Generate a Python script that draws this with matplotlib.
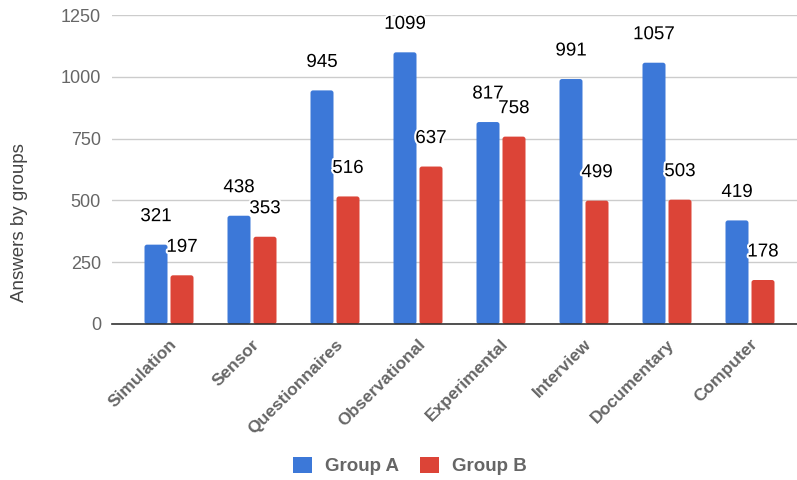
import matplotlib
matplotlib.use("Agg")
import matplotlib.pyplot as plt
import matplotlib.patheffects as pe
import matplotlib.transforms as mtransforms
from matplotlib.patches import FancyBboxPatch, Patch
import numpy as np

categories = ["Simulation", "Sensor", "Questionnaires", "Observational",
              "Experimental", "Interview", "Documentary", "Computer"]
group_a = [321, 438, 945, 1099, 817, 991, 1057, 419]
group_b = [197, 353, 516, 637, 758, 499, 503, 178]
yticks = [0, 250, 500, 750, 1000, 1250]

blue = "#3c78d8"
red = "#dc4437"
grey = "#666666"

plt.rcParams['font.family'] = ['Liberation Sans', 'DejaVu Sans']

fig = plt.figure(figsize=(7.97, 4.8), dpi=100)
ax = fig.add_axes([112/797, 1 - 324/480, 1 - 112/797, (324 - 15)/480])

x = np.arange(len(categories))
w = 23/83
off = 13/83
bars_a = ax.bar(x - off, group_a, width=w, color=blue, zorder=3)
bars_b = ax.bar(x + off, group_b, width=w, color=red, zorder=3)

# rounded corners: replace rectangles with rounded boxes of the same geometry
xu_per_px = 1/83
yu_per_px = 1250/309
for bars, col in ((bars_a, blue), (bars_b, red)):
    for r in bars:
        fb = FancyBboxPatch((r.get_x(), r.get_y()), r.get_width(), r.get_height(),
                            boxstyle=f"round,pad=0,rounding_size={2.5*xu_per_px}",
                            mutation_aspect=yu_per_px/xu_per_px,
                            facecolor=col, edgecolor="none", zorder=3)
        ax.add_patch(fb)
        r.set_visible(False)

halo = [pe.withStroke(linewidth=3, foreground="white")]
for xi, a, b in zip(x, group_a, group_b):
    ax.annotate(str(a), (xi - off, a), xytext=(0, 28), textcoords="offset pixels",
                ha="center", va="center", fontsize=13.5, color="black", zorder=5, path_effects=halo)
    ax.annotate(str(b), (xi + off, b), xytext=(0, 28), textcoords="offset pixels",
                ha="center", va="center", fontsize=13.5, color="black", zorder=5, path_effects=halo)

ax.set_xlim(-57/83, 7 + 47/83)
ax.set_ylim(0, 1250)
ax.set_yticks(yticks)
ax.set_yticklabels([str(t) for t in yticks], color=grey, fontsize=13)
ax.set_xticks(x)
ax.set_xticklabels(categories, rotation=45, ha="right", rotation_mode="anchor",
                   color=grey, fontsize=12.5, fontweight="bold")
shift = mtransforms.ScaledTranslation(4/100, 0, fig.dpi_scale_trans)
for lbl in ax.get_xticklabels():
    lbl.set_transform(lbl.get_transform() + shift)
ax.tick_params(axis="both", length=0)
ax.tick_params(axis="y", pad=8)
ax.tick_params(axis="x", pad=9)
ax.grid(axis="y", color="#cccccc", linewidth=1, zorder=0)
for s in ["top", "right", "left"]:
    ax.spines[s].set_visible(False)
ax.spines["bottom"].set_color("#333333")
ax.spines["bottom"].set_linewidth(1.2)
ax.spines["bottom"].set_zorder(4)
ax.set_ylabel("Answers by groups", color="#444444", fontsize=13.5)
ax.yaxis.set_label_coords((28 - 112)/685, (324 - 223)/309)

handles = [Patch(facecolor=blue, label="Group A"), Patch(facecolor=red, label="Group B")]
leg = fig.legend(handles=handles, loc="center", bbox_to_anchor=(410/797, 1 - 466/480), ncol=2,
                 frameon=False, handlelength=1.0, handleheight=1.0, handletextpad=0.7,
                 columnspacing=1.1, prop={"size": 13.5, "weight": "bold"})
for t in leg.get_texts():
    t.set_color(grey)

fig.savefig("out.png", dpi=100)
